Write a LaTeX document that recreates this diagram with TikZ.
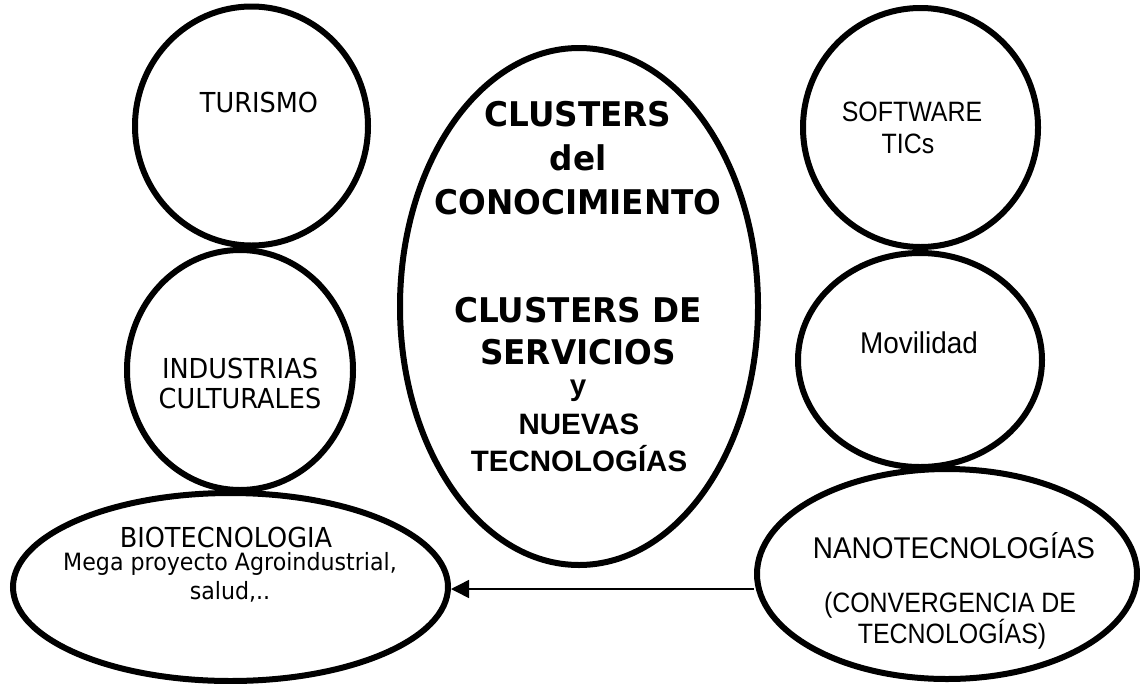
\documentclass[tikz,border=0pt]{standalone}
\usepackage{fontspec}
\usetikzlibrary{shapes.geometric,arrows.meta}
\setmainfont{DejaVu Sans}
\newfontfamily\tahfont[FakeStretch=0.93]{DejaVu Sans}
\newfontfamily\verbfont[FakeStretch=0.96]{DejaVu Sans}
\newfontfamily\arifont[FakeStretch=0.89]{Liberation Sans}
\newfontfamily\arinfont[FakeStretch=0.93]{Liberation Sans}
\newfontfamily\aribfont{Liberation Sans}
\begin{document}
\begin{tikzpicture}[x=1pt,y=-1pt,
  blob/.style={draw=black,line width=6pt,ellipse,inner sep=0pt,fill=none},
  tah/.style={inner sep=0pt,align=center,font=\tahfont\fontsize{27.5}{32}\selectfont},
  tahs/.style={inner sep=0pt,align=center,font=\tahfont\fontsize{23.8}{28}\selectfont},
  ari/.style={inner sep=0pt,align=center,font=\arifont\fontsize{28}{32}\selectfont},
  arin/.style={inner sep=0pt,align=center,font=\arinfont\fontsize{30}{34}\selectfont},
  bigb/.style={inner sep=0pt,align=center,font=\verbfont\bfseries\fontsize{34}{40}\selectfont},
  arib/.style={inner sep=0pt,align=center,font=\aribfont\bfseries\fontsize{29.5}{34}\selectfont},
  conn/.style={draw=black,line width=1.5pt,-{Triangle[length=18pt,width=18pt]}}]
\useasboundingbox (0,0) rectangle (1140,683);
\fill[white] (0,0) rectangle (1140,683);
% shapes
\node[blob,minimum width=233pt,minimum height=239pt] (tur) at (251.5,126) {};
\node[blob,minimum width=226pt,minimum height=240pt] (ind) at (240,370) {};
\node[blob,minimum width=435pt,minimum height=188pt] (bio) at (230.5,587) {};
\node[blob,minimum width=358pt,minimum height=517pt] (cen) at (579,306.5) {};
\node[blob,minimum width=235pt,minimum height=239pt] (sof) at (920.5,127.5) {};
\node[blob,minimum width=244pt,minimum height=214pt] (mov) at (920,360) {};
\node[blob,minimum width=380pt,minimum height=210pt] (nan) at (947,574) {};
% texts
\node[tah] (ttur) at (259,102) {TURISMO};
\node[tah] (tind1) at (240,368) {INDUSTRIAS};
\node[tah] (tind2) at (240,398) {CULTURALES};
\node[tah] (tbio1) at (226,537) {BIOTECNOLOGIA};
\node[tahs] (tbio2) at (230,564) {Mega proyecto Agroindustrial,};
\node[tahs] (tbio3) at (230,592) {salud,..};
\node[ari] (tsof1) at (912,112) {SOFTWARE};
\node[ari] (tsof2) at (908,144) {TICs};
\node[arin] (tmov) at (919,343) {Movilidad};
\node[arin] (tnan1) at (954,546) {NANOTECNOLOGÍAS};
\node[ari] (tnan2) at (950,605) {(CONVERGENCIA DE};
\node[ari] (tnan3) at (952,634) {TECNOLOGÍAS)};
\node[bigb] (c1) at (578,114) {CLUSTERS};
\node[bigb] (c2) at (578,158) {del};
\node[bigb] (c3) at (578,202) {CONOCIMIENTO};
\node[bigb] (c4) at (578,310) {CLUSTERS DE};
\node[bigb] (c5) at (578,352) {SERVICIOS};
\node[arib] (c6) at (578,391) {y};
\node[arib] (c7) at (579,424) {NUEVAS};
\node[arib] (c8) at (579,459) {TECNOLOGÍAS};
% connector
\draw[conn] (nan.west |- 0,589) -- (bio.east |- 0,589);
\end{tikzpicture}
\end{document}
